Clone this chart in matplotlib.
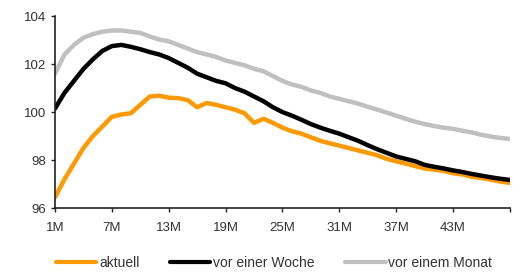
import matplotlib
matplotlib.use("Agg")
import matplotlib.pyplot as plt

plt.rcParams['font.family'] = ['Liberation Sans', 'DejaVu Sans']

months = [f"{m}M" for m in range(1, 50)]

aktuell = [96.45, 97.2, 97.85, 98.5, 99.0, 99.4, 99.8, 99.9, 99.95, 100.3,
           100.65, 100.68, 100.6, 100.58, 100.5, 100.2, 100.38, 100.3, 100.2, 100.1,
           99.95, 99.55, 99.72, 99.55, 99.35, 99.2, 99.1, 98.95, 98.8, 98.7,
           98.6, 98.5, 98.4, 98.3, 98.2, 98.05, 97.95, 97.85, 97.75, 97.65,
           97.6, 97.55, 97.45, 97.4, 97.3, 97.25, 97.18, 97.1, 97.05]

vor_woche = [100.15, 100.8, 101.3, 101.8, 102.2, 102.55, 102.75, 102.8, 102.72, 102.62,
             102.5, 102.4, 102.25, 102.05, 101.85, 101.6, 101.45, 101.3, 101.2, 101.0,
             100.85, 100.65, 100.45, 100.2, 100.0, 99.85, 99.68, 99.5, 99.35, 99.22,
             99.1, 98.95, 98.8, 98.62, 98.45, 98.3, 98.15, 98.05, 97.95, 97.8,
             97.72, 97.65, 97.57, 97.5, 97.42, 97.35, 97.28, 97.22, 97.17]

vor_monat = [101.6, 102.4, 102.8, 103.1, 103.25, 103.35, 103.4, 103.4, 103.35, 103.3,
             103.15, 103.02, 102.95, 102.8, 102.65, 102.5, 102.4, 102.3, 102.15, 102.05,
             101.95, 101.8, 101.7, 101.5, 101.3, 101.15, 101.05, 100.9, 100.8, 100.65,
             100.55, 100.45, 100.35, 100.22, 100.1, 99.98, 99.85, 99.72, 99.6, 99.5,
             99.42, 99.35, 99.3, 99.22, 99.15, 99.05, 98.98, 98.92, 98.88]

tick_labels = ["1M", "7M", "13M", "19M", "25M", "31M", "37M", "43M", ""]
y_ticks = [96, 98, 100, 102, 104]

fig = plt.figure(figsize=(5.24, 2.73), dpi=100)
ax = fig.add_axes([0.105, 0.238, 0.868, 0.703])

x = list(range(len(months)))
ax.plot(x, aktuell, color="#FF9900", lw=3.2, label="aktuell", solid_capstyle="round")
ax.plot(x, vor_woche, color="black", lw=3.2, label="vor einer Woche", solid_capstyle="round")
ax.plot(x, vor_monat, color="#C0C0C0", lw=3.2, label="vor einem Monat", solid_capstyle="round")

ax.set_xlim(0, len(months) - 1)
ax.set_ylim(96, 104)
ax.set_xticks(range(0, len(months), 6))
ax.set_xticklabels(tick_labels)
ax.set_yticks(y_ticks)

for side in ["top", "right"]:
    ax.spines[side].set_visible(False)
for side in ["left", "bottom"]:
    ax.spines[side].set_color("#222222")
    ax.spines[side].set_linewidth(1.2)
ax.tick_params(direction="out", length=3, width=1, colors="#222222",
               labelsize=9.5, labelcolor="#333333")
ax.tick_params(axis="x", pad=7)

leg = ax.legend(loc="upper left", bbox_to_anchor=(-0.025, -0.185), ncol=3, frameon=False,
                fontsize=10, handlelength=2.9, handletextpad=0.2, columnspacing=2.2,
                labelcolor="#333333")
for line in leg.get_lines():
    line.set_linewidth(3)

fig.savefig("out.png", dpi=100)
